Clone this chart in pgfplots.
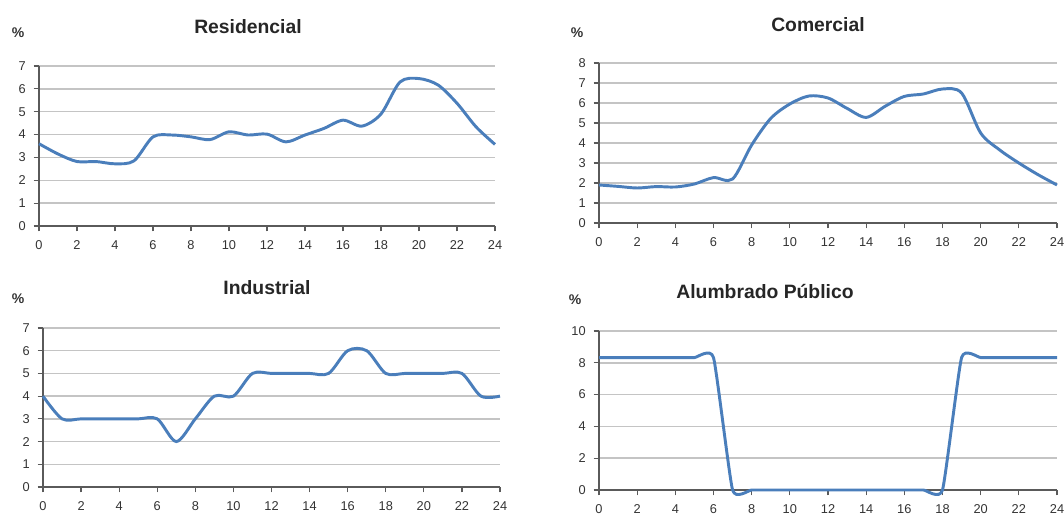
\documentclass[border=0pt]{standalone}
\usepackage{pgfplots}
\pgfplotsset{compat=1.18}
\usepackage{fontspec}
\setmainfont{Liberation Sans}
\definecolor{lineblue}{HTML}{4A7EBB}
\definecolor{gridgray}{HTML}{C4C4C4}
\definecolor{axgray}{HTML}{5A5A5A}
\definecolor{txt}{HTML}{333333}
\definecolor{ttl}{HTML}{262626}
\pgfplotsset{
  panel/.style={
    scale only axis,
    anchor=south west,
    xmin=0, xmax=24,
    xtick={0,2,...,24},
    axis x line=bottom, axis y line=left,
    axis line style={-, axgray, line width=1.1pt},
    tick style={axgray, line width=0.9pt},
    tick align=outside,
    major tick length=4pt,
    ymajorgrids,
    grid style={gridgray, line width=1.1pt},
    ticklabel style={font=\fontsize{9.6}{11}\selectfont, text=txt},
    xticklabel style={yshift=-3.5pt},
    yticklabel style={xshift=-2.5pt},
    /pgf/number format/assume math mode=true,
    clip=false,
  },
  curve/.style={color=lineblue, line width=2.2pt, smooth, mark=none},
}
\begin{document}
\begin{tikzpicture}
\path[use as bounding box] (0,0) rectangle (798pt,387pt);
% Residencial
\begin{axis}[panel, at={(29.25pt,217.5pt)}, width=342pt, height=120pt,
  ymin=0, ymax=7, ytick={0,1,...,7}]
\addplot[curve] coordinates {(0,3.6) (1,3.15) (2,2.82) (3,2.82) (4,2.72) (5,2.85) (6,3.9) (7,3.98) (8,3.9) (9,3.78) (10,4.12) (11,3.98) (12,4.02) (13,3.68) (14,3.98) (15,4.27) (16,4.63) (17,4.37) (18,4.9) (19,6.3) (20,6.45) (21,6.17) (22,5.37) (23,4.34) (24,3.57)};
\end{axis}
% Comercial
\begin{axis}[panel, at={(449.25pt,219.75pt)}, width=343.5pt, height=120pt,
  ymin=0, ymax=8, ytick={0,1,...,8}]
\addplot[curve] coordinates {(0,1.9) (1,1.83) (2,1.75) (3,1.82) (4,1.8) (5,1.95) (6,2.27) (7,2.2) (8,3.9) (9,5.23) (10,5.95) (11,6.35) (12,6.25) (13,5.73) (14,5.28) (15,5.84) (16,6.33) (17,6.45) (18,6.7) (19,6.5) (20,4.5) (21,3.65) (22,3.0) (23,2.42) (24,1.9)};
\end{axis}
% Industrial
\begin{axis}[panel, at={(32.25pt,21.75pt)}, width=342.75pt, height=119.25pt,
  ymin=0, ymax=7, ytick={0,1,...,7}]
\addplot[curve] coordinates {(0,4) (1,3) (2,3) (3,3) (4,3) (5,3) (6,3) (7,2) (8,3) (9,4) (10,4) (11,5) (12,5) (13,5) (14,5) (15,5) (16,6) (17,6) (18,5) (19,5) (20,5) (21,5) (22,5) (23,4) (24,4)};
\end{axis}
% Alumbrado Publico
\begin{axis}[panel, at={(449.25pt,19.5pt)}, width=343.5pt, height=119.25pt,
  ymin=0, ymax=10, ytick={0,2,...,10}]
\addplot[curve, tension=0.28] coordinates {(0,8.33) (1,8.33) (2,8.33) (3,8.33) (4,8.33) (5,8.33) (6,8.33) (7,0) (8,0) (9,0) (10,0) (11,0) (12,0) (13,0) (14,0) (15,0) (16,0) (17,0) (18,0) (19,8.33) (20,8.33) (21,8.33) (22,8.33) (23,8.33) (24,8.33)};
\end{axis}
% titles
\node[font=\bfseries\fontsize{14.5}{17}\selectfont, text=ttl] at (186pt,366.75pt) {Residencial};
\node[font=\bfseries\fontsize{14.5}{17}\selectfont, text=ttl] at (613.5pt,368.25pt) {Comercial};
\node[font=\bfseries\fontsize{14.5}{17}\selectfont, text=ttl] at (200.25pt,171pt) {Industrial};
\node[font=\bfseries\fontsize{14.5}{17}\selectfont, text=ttl] at (573.75pt,168pt) {Alumbrado Público};
% percent signs
\node[font=\bfseries\fontsize{10.5}{12}\selectfont, text=txt] at (13.5pt,362.25pt) {\%};
\node[font=\bfseries\fontsize{10.5}{12}\selectfont, text=txt] at (432.75pt,362.25pt) {\%};
\node[font=\bfseries\fontsize{10.5}{12}\selectfont, text=txt] at (13.5pt,162.75pt) {\%};
\node[font=\bfseries\fontsize{10.5}{12}\selectfont, text=txt] at (431.25pt,162pt) {\%};
\end{tikzpicture}
\end{document}
